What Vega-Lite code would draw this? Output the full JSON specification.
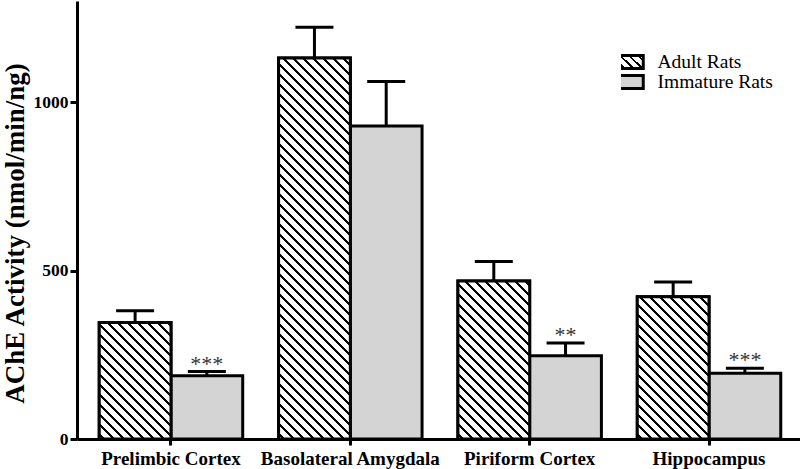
{
  "$schema": "https://vega.github.io/schema/vega-lite/v6.json",
  "width": 726,
  "height": 438,
  "autosize": {"type": "none"},
  "padding": {"left": 77, "top": 1, "right": 0, "bottom": 30},
  "background": "white",
  "config": {"view": {"stroke": null}, "font": "Liberation Serif"},
  "params": [
    {"name": "hatch", "value": [
      {"offset":0,"color":"#fff"},
      {"offset":0.007,"color":"#fff"},{"offset":0.007,"color":"#000"},{"offset":0.013,"color":"#000"},{"offset":0.013,"color":"#fff"},
      {"offset":0.027,"color":"#fff"},{"offset":0.027,"color":"#000"},{"offset":0.033,"color":"#000"},{"offset":0.033,"color":"#fff"},
      {"offset":0.047,"color":"#fff"},{"offset":0.047,"color":"#000"},{"offset":0.053,"color":"#000"},{"offset":0.053,"color":"#fff"},
      {"offset":0.067,"color":"#fff"},{"offset":0.067,"color":"#000"},{"offset":0.073,"color":"#000"},{"offset":0.073,"color":"#fff"},
      {"offset":0.087,"color":"#fff"},{"offset":0.087,"color":"#000"},{"offset":0.093,"color":"#000"},{"offset":0.093,"color":"#fff"},
      {"offset":0.107,"color":"#fff"},{"offset":0.107,"color":"#000"},{"offset":0.113,"color":"#000"},{"offset":0.113,"color":"#fff"},
      {"offset":0.127,"color":"#fff"},{"offset":0.127,"color":"#000"},{"offset":0.133,"color":"#000"},{"offset":0.133,"color":"#fff"},
      {"offset":0.147,"color":"#fff"},{"offset":0.147,"color":"#000"},{"offset":0.153,"color":"#000"},{"offset":0.153,"color":"#fff"},
      {"offset":0.167,"color":"#fff"},{"offset":0.167,"color":"#000"},{"offset":0.173,"color":"#000"},{"offset":0.173,"color":"#fff"},
      {"offset":0.187,"color":"#fff"},{"offset":0.187,"color":"#000"},{"offset":0.193,"color":"#000"},{"offset":0.193,"color":"#fff"},
      {"offset":0.207,"color":"#fff"},{"offset":0.207,"color":"#000"},{"offset":0.213,"color":"#000"},{"offset":0.213,"color":"#fff"},
      {"offset":0.227,"color":"#fff"},{"offset":0.227,"color":"#000"},{"offset":0.233,"color":"#000"},{"offset":0.233,"color":"#fff"},
      {"offset":0.247,"color":"#fff"},{"offset":0.247,"color":"#000"},{"offset":0.253,"color":"#000"},{"offset":0.253,"color":"#fff"},
      {"offset":0.267,"color":"#fff"},{"offset":0.267,"color":"#000"},{"offset":0.273,"color":"#000"},{"offset":0.273,"color":"#fff"},
      {"offset":0.287,"color":"#fff"},{"offset":0.287,"color":"#000"},{"offset":0.293,"color":"#000"},{"offset":0.293,"color":"#fff"},
      {"offset":0.307,"color":"#fff"},{"offset":0.307,"color":"#000"},{"offset":0.313,"color":"#000"},{"offset":0.313,"color":"#fff"},
      {"offset":0.327,"color":"#fff"},{"offset":0.327,"color":"#000"},{"offset":0.333,"color":"#000"},{"offset":0.333,"color":"#fff"},
      {"offset":0.347,"color":"#fff"},{"offset":0.347,"color":"#000"},{"offset":0.353,"color":"#000"},{"offset":0.353,"color":"#fff"},
      {"offset":0.367,"color":"#fff"},{"offset":0.367,"color":"#000"},{"offset":0.373,"color":"#000"},{"offset":0.373,"color":"#fff"},
      {"offset":0.387,"color":"#fff"},{"offset":0.387,"color":"#000"},{"offset":0.393,"color":"#000"},{"offset":0.393,"color":"#fff"},
      {"offset":0.407,"color":"#fff"},{"offset":0.407,"color":"#000"},{"offset":0.413,"color":"#000"},{"offset":0.413,"color":"#fff"},
      {"offset":0.427,"color":"#fff"},{"offset":0.427,"color":"#000"},{"offset":0.433,"color":"#000"},{"offset":0.433,"color":"#fff"},
      {"offset":0.447,"color":"#fff"},{"offset":0.447,"color":"#000"},{"offset":0.453,"color":"#000"},{"offset":0.453,"color":"#fff"},
      {"offset":0.467,"color":"#fff"},{"offset":0.467,"color":"#000"},{"offset":0.473,"color":"#000"},{"offset":0.473,"color":"#fff"},
      {"offset":0.487,"color":"#fff"},{"offset":0.487,"color":"#000"},{"offset":0.493,"color":"#000"},{"offset":0.493,"color":"#fff"},
      {"offset":0.507,"color":"#fff"},{"offset":0.507,"color":"#000"},{"offset":0.513,"color":"#000"},{"offset":0.513,"color":"#fff"},
      {"offset":0.527,"color":"#fff"},{"offset":0.527,"color":"#000"},{"offset":0.533,"color":"#000"},{"offset":0.533,"color":"#fff"},
      {"offset":0.547,"color":"#fff"},{"offset":0.547,"color":"#000"},{"offset":0.553,"color":"#000"},{"offset":0.553,"color":"#fff"},
      {"offset":0.567,"color":"#fff"},{"offset":0.567,"color":"#000"},{"offset":0.573,"color":"#000"},{"offset":0.573,"color":"#fff"},
      {"offset":0.587,"color":"#fff"},{"offset":0.587,"color":"#000"},{"offset":0.593,"color":"#000"},{"offset":0.593,"color":"#fff"},
      {"offset":0.607,"color":"#fff"},{"offset":0.607,"color":"#000"},{"offset":0.613,"color":"#000"},{"offset":0.613,"color":"#fff"},
      {"offset":0.627,"color":"#fff"},{"offset":0.627,"color":"#000"},{"offset":0.633,"color":"#000"},{"offset":0.633,"color":"#fff"},
      {"offset":0.647,"color":"#fff"},{"offset":0.647,"color":"#000"},{"offset":0.653,"color":"#000"},{"offset":0.653,"color":"#fff"},
      {"offset":0.667,"color":"#fff"},{"offset":0.667,"color":"#000"},{"offset":0.673,"color":"#000"},{"offset":0.673,"color":"#fff"},
      {"offset":0.687,"color":"#fff"},{"offset":0.687,"color":"#000"},{"offset":0.693,"color":"#000"},{"offset":0.693,"color":"#fff"},
      {"offset":0.707,"color":"#fff"},{"offset":0.707,"color":"#000"},{"offset":0.713,"color":"#000"},{"offset":0.713,"color":"#fff"},
      {"offset":0.727,"color":"#fff"},{"offset":0.727,"color":"#000"},{"offset":0.733,"color":"#000"},{"offset":0.733,"color":"#fff"},
      {"offset":0.747,"color":"#fff"},{"offset":0.747,"color":"#000"},{"offset":0.753,"color":"#000"},{"offset":0.753,"color":"#fff"},
      {"offset":0.767,"color":"#fff"},{"offset":0.767,"color":"#000"},{"offset":0.773,"color":"#000"},{"offset":0.773,"color":"#fff"},
      {"offset":0.787,"color":"#fff"},{"offset":0.787,"color":"#000"},{"offset":0.793,"color":"#000"},{"offset":0.793,"color":"#fff"},
      {"offset":0.807,"color":"#fff"},{"offset":0.807,"color":"#000"},{"offset":0.813,"color":"#000"},{"offset":0.813,"color":"#fff"},
      {"offset":0.827,"color":"#fff"},{"offset":0.827,"color":"#000"},{"offset":0.833,"color":"#000"},{"offset":0.833,"color":"#fff"},
      {"offset":0.847,"color":"#fff"},{"offset":0.847,"color":"#000"},{"offset":0.853,"color":"#000"},{"offset":0.853,"color":"#fff"},
      {"offset":0.867,"color":"#fff"},{"offset":0.867,"color":"#000"},{"offset":0.873,"color":"#000"},{"offset":0.873,"color":"#fff"},
      {"offset":0.887,"color":"#fff"},{"offset":0.887,"color":"#000"},{"offset":0.893,"color":"#000"},{"offset":0.893,"color":"#fff"},
      {"offset":0.907,"color":"#fff"},{"offset":0.907,"color":"#000"},{"offset":0.913,"color":"#000"},{"offset":0.913,"color":"#fff"},
      {"offset":1,"color":"#fff"}
    ]},
    {"name": "legendHatch", "value": [
      {"offset": 0, "color": "#fff"},
      {"offset": 0.128, "color": "#fff"}, {"offset": 0.128, "color": "#000"}, {"offset": 0.198, "color": "#000"}, {"offset": 0.198, "color": "#fff"},
      {"offset": 0.36, "color": "#fff"}, {"offset": 0.36, "color": "#000"}, {"offset": 0.43, "color": "#000"}, {"offset": 0.43, "color": "#fff"},
      {"offset": 0.593, "color": "#fff"}, {"offset": 0.593, "color": "#000"}, {"offset": 0.663, "color": "#000"}, {"offset": 0.663, "color": "#fff"},
      {"offset": 0.825, "color": "#fff"}, {"offset": 0.825, "color": "#000"}, {"offset": 0.895, "color": "#000"}, {"offset": 0.895, "color": "#fff"},
      {"offset": 1, "color": "#fff"}
    ]}
  ],
  "data": {"values": [
    {"region": "Prelimbic Cortex", "group": "Adult Rats", "value": 346, "upper": 381, "sig": ""},
    {"region": "Prelimbic Cortex", "group": "Immature Rats", "value": 188, "upper": 200, "sig": "***"},
    {"region": "Basolateral Amygdala", "group": "Adult Rats", "value": 1131, "upper": 1222, "sig": ""},
    {"region": "Basolateral Amygdala", "group": "Immature Rats", "value": 929, "upper": 1061, "sig": ""},
    {"region": "Piriform Cortex", "group": "Adult Rats", "value": 469, "upper": 527, "sig": ""},
    {"region": "Piriform Cortex", "group": "Immature Rats", "value": 247, "upper": 285, "sig": "**"},
    {"region": "Hippocampus", "group": "Adult Rats", "value": 422, "upper": 466, "sig": ""},
    {"region": "Hippocampus", "group": "Immature Rats", "value": 195, "upper": 210, "sig": "***"}
  ]},
  "encoding": {
    "x": {
      "field": "region", "type": "nominal",
      "sort": ["Prelimbic Cortex", "Basolateral Amygdala", "Piriform Cortex", "Hippocampus"],
      "scale": {"paddingInner": 0.2, "paddingOuter": 0.124},
      "axis": {
        "title": null, "labelAngle": 0, "domainWidth": 3, "domainColor": "black",
        "tickWidth": 3, "tickSize": 6, "tickColor": "black",
        "labelFont": "Liberation Serif", "labelFontSize": 19, "labelFontWeight": "bold",
        "labelColor": "black", "labelPadding": 4, "zindex": 1
      }
    },
    "xOffset": {
      "field": "group", "type": "nominal", "sort": ["Adult Rats", "Immature Rats"],
      "scale": {"paddingInner": 0, "paddingOuter": 0}
    }
  },
  "layer": [
    {
      "mark": {"type": "rule", "stroke": "black", "strokeWidth": 3},
      "encoding": {
        "y": {
          "field": "value", "type": "quantitative", "title": "AChE Activity (nmol/min/ng)",
          "scale": {"domain": [0, 1300], "nice": false},
          "axis": {
            "values": [0, 500, 1000], "format": "d", "grid": false, "domainWidth": 3, "domainColor": "black",
            "tickWidth": 3, "tickSize": 7, "tickColor": "black",
            "labelFont": "Liberation Serif", "labelFontSize": 17.5, "labelFontWeight": "bold",
            "labelColor": "black", "labelPadding": 2,
            "titleFont": "Liberation Serif", "titleFontSize": 27, "titleFontWeight": "bold",
            "titleColor": "black", "titlePadding": 4, "titleY": 232
          }
        },
        "y2": {"field": "upper"}
      }
    },
    {
      "mark": {"type": "tick", "orient": "horizontal", "size": 38, "thickness": 3, "color": "black", "opacity": 1},
      "encoding": {
        "y": {"field": "upper", "type": "quantitative", "title": "AChE Activity (nmol/min/ng)"}
      }
    },
    {
      "mark": {"type": "bar", "stroke": "black", "strokeWidth": 3},
      "encoding": {
        "y": {"field": "value", "type": "quantitative", "title": "AChE Activity (nmol/min/ng)"},
        "fill": {
          "field": "group", "type": "nominal", "sort": ["Adult Rats", "Immature Rats"],
          "scale": {"range": [
            {"expr": "{gradient: 'linear', x1: 0, y1: 1, x2: 1.193, y2: 0.361, stops: legendHatch}"},
            "#d4d4d4"
          ]},
          "legend": {
            "title": null, "orient": "none", "legendX": 544, "legendY": 52,
            "symbolType": "M-1.667,-0.867H1.667V0.867H-1.667Z", "symbolSize": 225,
            "symbolStrokeWidth": 3, "symbolStrokeColor": "black", "symbolOpacity": 1,
            "labelFont": "Liberation Serif", "labelFontSize": 19.5, "labelFontWeight": "normal",
            "labelColor": "black", "labelOffset": 17, "rowPadding": 0, "clipHeight": 18, "padding": 0
          }
        }
      }
    },
    {
      "transform": [{"filter": "datum.group == 'Adult Rats'"}],
      "mark": {
        "type": "bar", "stroke": "black", "strokeWidth": 3,
        "fill": {"expr": "{gradient: 'linear', x1: 0, y1: 1, x2: 500*71.74/(5146.6+pow(datum.value*0.3369,2)), y2: 1-500*datum.value*0.3369/(5146.6+pow(datum.value*0.3369,2)), stops: hatch}"}
      },
      "encoding": {
        "y": {"field": "value", "type": "quantitative", "title": "AChE Activity (nmol/min/ng)"}
      }
    },
    {
      "transform": [{"filter": "datum.sig != ''"}],
      "mark": {"type": "text", "font": "Liberation Serif", "fontSize": 22, "baseline": "alphabetic", "dy": -1, "color": "#333"},
      "encoding": {
        "y": {"field": "upper", "type": "quantitative", "title": "AChE Activity (nmol/min/ng)"},
        "text": {"field": "sig"}
      }
    }
  ]
}
